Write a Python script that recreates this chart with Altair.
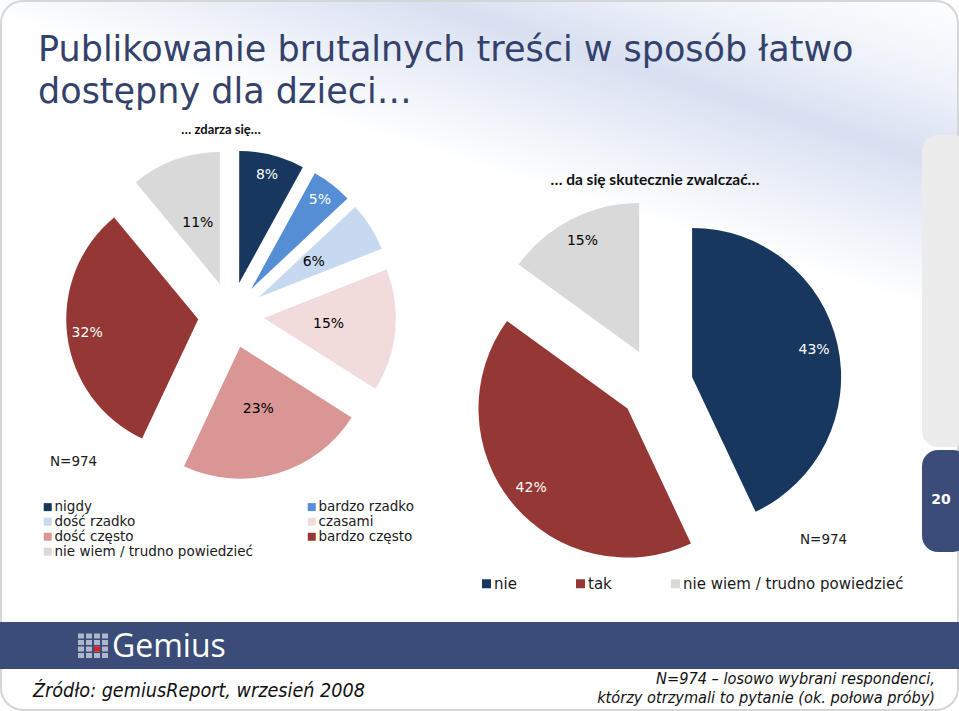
import math
import altair as alt
import pandas as pd

# ---------------- data ----------------
left_categories = ["nigdy", "bardzo rzadko", "dość rzadko", "czasami",
                   "dość często", "bardzo często", "nie wiem / trudno powiedzieć"]
left_values = [8, 5, 6, 15, 23, 32, 11]

right_categories = ["nie", "tak", "nie wiem / trudno powiedzieć"]
right_values = [43, 42, 15]

sample_note = "N=974"

# ---------------- styles ----------------
left_colors = ["#17375E", "#558ED5", "#C6D9F1", "#F2DCDB", "#D99694", "#953735", "#D9D9D9"]
right_colors = ["#17375E", "#953735", "#D9D9D9"]
dark_slices = ["nigdy", "bardzo rzadko", "bardzo często", "nie", "tak"]
left_outer_labels = ["nigdy", "bardzo rzadko", "bardzo często"]

TITLE_COLOR = "#34426b"
BAND_COLOR = "#3a4c77"
W, H = 959, 711


def pie(categories, values, colors, cx, cy, r, explode, label_r_expr, legend):
    df = pd.DataFrame({"cat": categories, "val": values, "idx": list(range(len(values)))})
    base = (
        alt.Chart(df)
        .transform_joinaggregate(total="sum(val)")
        .transform_window(cum="sum(val)", sort=[alt.SortField("idx", order="ascending")])
        .transform_calculate(
            f0="(datum.cum - datum.val) / datum.total",
            f1="datum.cum / datum.total",
            mid="(datum.cum - datum.val / 2) / datum.total * 2 * PI",
            cx=f"{cx} + {explode} * sin(datum.mid)",
            cy=f"{cy} - {explode} * cos(datum.mid)",
            lr=label_r_expr,
            lx="datum.cx + datum.lr * sin(datum.mid)",
            ly="datum.cy - datum.lr * cos(datum.mid)",
            lab="datum.val + '%'",
        )
    )
    arcs = base.mark_arc(radius=r).encode(
        theta=alt.Theta("f0:Q", scale=alt.Scale(domain=[0, 1], range=[0, 2 * math.pi]), stack=False),
        theta2="f1:Q",
        x=alt.X("cx:Q", scale=None, axis=None),
        y=alt.Y("cy:Q", scale=None, axis=None),
        color=alt.Color("cat:N", scale=alt.Scale(domain=categories, range=colors), legend=legend,
                        sort=categories),
    )
    labels = base.mark_text(font="DejaVu Sans", fontSize=14, align="center", baseline="middle").encode(
        x=alt.X("lx:Q", scale=None, axis=None),
        y=alt.Y("ly:Q", scale=None, axis=None),
        text="lab:N",
        color=alt.condition(alt.FieldOneOfPredicate(field="cat", oneOf=dark_slices),
                            alt.value("white"), alt.value("black")),
    )
    return arcs, labels


left_legend = alt.Legend(
    title=None, orient="none", legendX=41, legendY=500, direction="horizontal", columns=2,
    columnPadding=52, rowPadding=0, symbolType="square", symbolSize=64, symbolStrokeWidth=0,
    labelFont="DejaVu Sans", labelFontSize=13.5, labelColor="#1a1a1a", labelOffset=0,
    labelLimit=400, padding=0,
)
right_legend = alt.Legend(
    title=None, orient="none", legendX=479, legendY=576, direction="horizontal",
    columnPadding=56, symbolType="square", symbolSize=81, symbolStrokeWidth=0,
    labelFont="DejaVu Sans", labelFontSize=15, labelColor="#1a1a1a", labelOffset=0,
    labelLimit=400, padding=0,
)

left_outer_expr = "indexof([" + ",".join(f"'{c}'" for c in left_outer_labels) + "], datum.cat) >= 0 ? 112 : 65"
l_arcs, l_labels = pie(left_categories, left_values, left_colors, 231, 315, 132, 33, left_outer_expr, left_legend)
r_arcs, r_labels = pie(right_categories, right_values, right_colors, 656, 385, 149, 37, "125", right_legend)

one = pd.DataFrame({"d": [0]})


def rect(x, x2, y, y2, **kw):
    return alt.Chart(one).mark_rect(**kw).encode(
        x=alt.value(x), x2=alt.value(x2), y=alt.value(y), y2=alt.value(y2))


def rule(x, x2, y, **kw):
    return alt.Chart(one).mark_rule(**kw).encode(
        x=alt.value(x), x2=alt.value(x2), y=alt.value(y))


def text(x, y, t, **kw):
    return alt.Chart(one).mark_text(text=t, **kw).encode(x=alt.value(x), y=alt.value(y))


swoosh = rect(0, W, 0, 300, color=alt.LinearGradient(
    gradient="linear", x1=0, y1=1, x2=1, y2=0,
    stops=[alt.GradientStop(color="#ffffff", offset=0),
           alt.GradientStop(color="#ffffff", offset=0.47),
           alt.GradientStop(color="#d8e0f1", offset=0.72),
           alt.GradientStop(color="#eef2f9", offset=0.85),
           alt.GradientStop(color="#ffffff", offset=1)]))

border = rect(1, W - 1, 1, H - 1, fillOpacity=0, stroke="#d6d6d6", strokeWidth=2, cornerRadius=22)
band = rect(0, W, 622, 669, color=BAND_COLOR)
tab_gray = rect(922, W + 10, 135, 447, color="#ececec", cornerRadius=16)
tab_blue = rect(922, W + 10, 450, 552, color=BAND_COLOR, cornerRadius=16)

title = text(38, 61, ["Publikowanie brutalnych treści w sposób łatwo", "dostępny dla dzieci…"],
             align="left", baseline="alphabetic", font="DejaVu Sans", fontSize=35,
             lineHeight=42, color=TITLE_COLOR)
sub_left = text(221, 130, "… zdarza się…", align="center", baseline="middle", font="Lato",
                fontWeight="bold", fontSize=13, color="#111111")
sub_right = text(655, 180, "… da się skutecznie zwalczać…", align="center", baseline="middle",
                 font="Lato", fontWeight="bold", fontSize=15.5, color="#111111")
n_left = text(50, 462, sample_note, align="left", baseline="middle", font="DejaVu Sans",
              fontSize=13.5, color="#1a1a1a")
n_right = text(800, 540, sample_note, align="left", baseline="middle", font="DejaVu Sans",
               fontSize=13.5, color="#1a1a1a")
page_no = text(941, 500, "20", align="center", baseline="middle", font="DejaVu Sans",
               fontWeight="bold", fontSize=14, color="white")

# Gemius logo: rows of small grey squares with one red square
logo_rows = [rule(78, 110, yy, color="#aeb7cc", strokeWidth=5, strokeDash=[6, 2])
             for yy in (636, 642.5, 649, 655.5)]
logo_dot = rect(94, 100, 646.5, 651.5, color="#e0201b")
logo_text = text(112, 657, "Gemius", align="left", baseline="alphabetic", font="Open Sans",
                 fontSize=32, color="white")

src = text(33, 697, "Źródło: gemiusReport, wrzesień 2008", align="left", baseline="alphabetic",
           font="DejaVu Sans Condensed", fontStyle="italic", fontSize=19.6, color="#111111")
note = text(935, 684, ["N=974 – losowo wybrani respondenci,",
                       "którzy otrzymali to pytanie (ok. połowa próby)"],
            align="right", baseline="alphabetic", font="DejaVu Sans Condensed",
            fontStyle="italic", fontSize=16.2, lineHeight=18.5, color="#111111")

chart = (
    alt.layer(swoosh, border, tab_gray, tab_blue, band,
              title, sub_left, sub_right,
              l_arcs, l_labels, r_arcs, r_labels,
              n_left, n_right, page_no, *logo_rows, logo_dot, logo_text, src, note)
    .resolve_scale(color="independent")
    .properties(width=W, height=H, padding=0, autosize="none", background="white")
    .configure_view(strokeWidth=0)
)

chart.save("out.html", embed_options={"renderer": "svg", "actions": False})
